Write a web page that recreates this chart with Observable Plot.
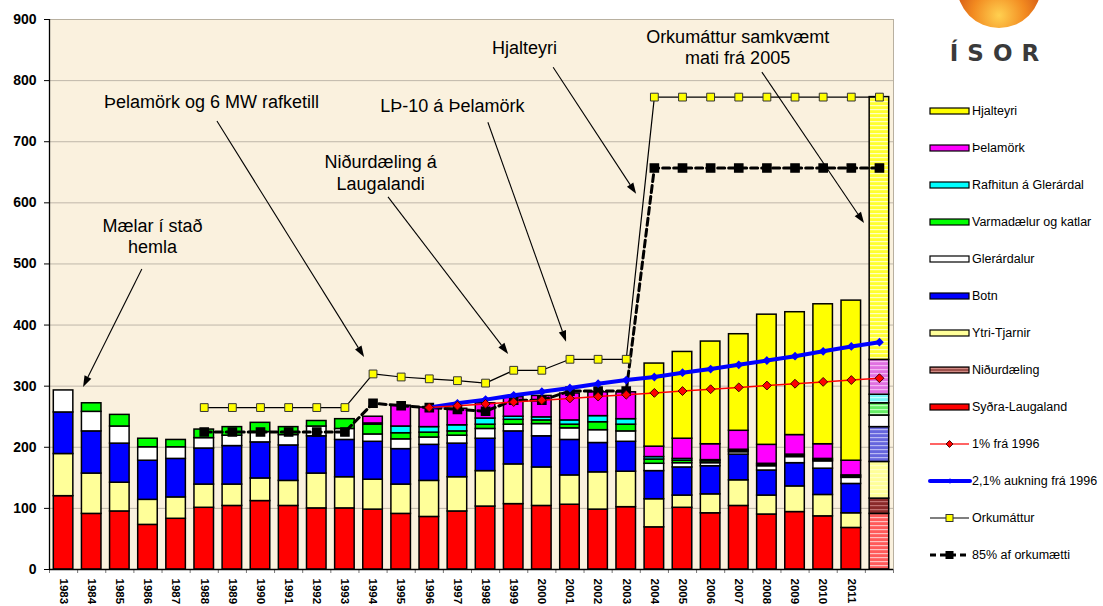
<!DOCTYPE html>
<html><head><meta charset="utf-8">
<script src="https://cdn.jsdelivr.net/npm/d3@7"></script>
<script src="https://cdn.jsdelivr.net/npm/@observablehq/plot@0.6"></script>
<style>
body{margin:0;background:#fff;}
#wrap{position:relative;width:1103px;height:606px;font-family:"Liberation Sans",Arial,sans-serif;}
#chart{position:absolute;left:0;top:0;}
#side{position:absolute;left:900px;top:0;}
</style></head><body><div id="wrap"><div id="chart"></div><svg id="side" width="203" height="606"></svg></div>
<script>
// ---- categories (last one = "Orkumáttur samkvæmt mati frá 2005", unlabelled) ----
const yearLabels = ["1983","1984","1985","1986","1987","1988","1989","1990","1991","1992","1993","1994","1995","1996","1997","1998","1999","2000","2001","2002","2003","2004","2005","2006","2007","2008","2009","2010","2011",""];
// ---- stacked series (bottom to top) ----
const sydraLaugaland = [120,91,95,73,83,101,104,112,104,100,100,98,91,86,95,103,107,104,106,98,102,69,101,92,104,90,94,87,68,91];
const nidurdaeling   = [0,0,0,0,0,0,0,0,0,0,0,0,0,0,0,0,0,0,0,0,0,0,0,0,0,0,0,0,0,25];
const ytriTjarnir    = [69,66,47,41,35,38,35,37,41,57,51,49,48,59,56,58,65,63,48,61,58,46,20,31,42,31,42,35,24,60];
const botn           = [68,69,64,64,63,59,63,59,58,61,61,62,58,59,55,53,54,51,58,48,49,46,46,46,42,41,38,43,48,57];
const glerardalur    = [36,32,28,22,19,17,17,17,17,16,18,12,16,12,13,16,11,20,19,21,17,12,7,5,4,7,10,12,10,19];
const varmadaelur    = [0,14,19,14,12,14,14,15,13,9,16,16,10,8,7,7,8,6,6,13,11,7,4,3,2,2,2,2,2,20];
const rafhitun       = [0,0,0,0,0,0,0,0,0,0,0,2,11,9,10,10,5,5,7,10,9,4,3,2,2,2,2,2,2,14];
const thelamork      = [0,0,0,0,0,0,0,0,0,0,0,11,34,32,27,25,32,35,44,39,44,17,33,26,31,31,32,24,24,57];
const hjalteyri      = [0,0,0,0,0,0,0,0,0,0,0,0,0,0,0,0,0,0,0,0,0,136,142,168,158,213,201,229,262,430];
// ---- line series ----
const orkumattur  = [null,null,null,null,null,265,265,265,265,265,265,320,315,312,309,305,326,326,344,344,344,773,773,773,773,773,773,773,773,773];
const orkumaetti85 = [null,null,null,null,null,225,225,225,225,225,225,272,268,265,262,259,277,277,292,292,292,657,657,657,657,657,657,657,657,657];
const fra1996_1   = [null,null,null,null,null,null,null,null,null,null,null,null,null,265,268,271,274,277,280,283,286,289,292,295,298,301,304,307,310,313];
const fra1996_21  = [null,null,null,null,null,null,null,null,null,null,null,null,null,265,272,278,285,291,297,304,310,315,322,328,335,342,349,357,365,372];
const yTicks = [0,100,200,300,400,500,600,700,800,900];
// ---- annotations ----
const noteTexts = ["Mælar í stað\nhemla","Þelamörk og 6 MW rafketill","Niðurdæling á\nLaugalandi","LÞ-10 á Þelamörk","Hjalteyri","Orkumáttur samkvæmt\nmati frá 2005"];
const noteX = [1986.66,1988.76,1994.77,1997.32,1999.88,2007.46];
const noteY = [546,766,650,759,854,855];
const arrowX1 = [1986.30,1988.97,1995.05,1998.60,2000.92,2008.34];
const arrowY1 = [491,733,609,731,821,813];
const arrowX2 = [1984.21,1994.20,1999.32,2001.38,2003.87,2011.97];
const arrowY2 = [298,347,352,372,614,566];

const seriesKeys = ["sydra","nidur","ytri","botn","glerar","varma","rafhitun","thelamork","hjalteyri"];
const seriesData = {sydra:sydraLaugaland,nidur:nidurdaeling,ytri:ytriTjarnir,botn:botn,glerar:glerardalur,varma:varmadaelur,rafhitun:rafhitun,thelamork:thelamork,hjalteyri:hjalteyri};
const seriesNames = {sydra:"Syðra-Laugaland",nidur:"Niðurdæling",ytri:"Ytri-Tjarnir",botn:"Botn",glerar:"Glerárdalur",varma:"Varmadælur og katlar",rafhitun:"Rafhitun á Glerárdal",thelamork:"Þelamörk",hjalteyri:"Hjalteyri"};
const colorOf = {sydra:"#ff0000",nidur:"#a0524d",ytri:"#ffff99",botn:"#0000ff",glerar:"#ffffff",varma:"#00ff00",rafhitun:"#00ffff",thelamork:"#ff00ff",hjalteyri:"#ffff00"};
const patBase = {sydra:["#ff5a5a","#ffc0c0"],nidur:["#8a2a2a","#c07070"],ytri:["#ffff99","#ffffc8"],botn:["#6666dd","#b8b8f4"],glerar:["#ffffff","#ffffff"],varma:["#66ee66","#c0ffc0"],rafhitun:["#77f6f6","#c8ffff"],thelamork:["#e070e0","#f4b8f4"],hjalteyri:["#ffff30","#ffffc0"]};

const firstPos = 1983;
const rows = [];
seriesKeys.forEach(k => seriesData[k].forEach((v, i) => { if (v > 0) rows.push({pos: firstPos + i, series: k, value: v, mat: i === yearLabels.length - 1}); }));
const lineRows = arr => arr.map((v, i) => ({pos: firstPos + i, value: v})).filter(d => d.value != null);
const boundaries = yearLabels.map((_, i) => firstPos + i).concat([firstPos + yearLabels.length]);
const labelOf = new Map(yearLabels.map((l, i) => [firstPos + i + 0.5, l]));
const centers = [...labelOf.keys()];
const notes = noteTexts.map((t, i) => ({t, x: noteX[i], y: noteY[i], x1: arrowX1[i], y1: arrowY1[i], x2: arrowX2[i], y2: arrowY2[i]}));
const mid = d => d.pos + 0.5;

// annotation arrows with filled heads, positioned through Plot's own scales
function arrowsMark(index, scales) {
  const g = d3.create("svg:g");
  notes.forEach(n => {
    const x1 = scales.x(n.x1), y1 = scales.y(n.y1), x2 = scales.x(n.x2), y2 = scales.y(n.y2);
    const a = Math.atan2(y2 - y1, x2 - x1), L = 11, W = 3.8;
    const bx = x2 - L * Math.cos(a), by = y2 - L * Math.sin(a);
    g.append("line").attr("x1", x1).attr("y1", y1).attr("x2", bx).attr("y2", by).attr("stroke", "#000").attr("stroke-width", 1.1);
    g.append("path").attr("d", `M${x2},${y2}L${bx - W * Math.sin(a)},${by + W * Math.cos(a)}L${bx + W * Math.sin(a)},${by - W * Math.cos(a)}Z`).attr("fill", "#000");
  });
  return g.node();
}

const chart = Plot.plot({
  width: 900, height: 606,
  marginLeft: 49, marginRight: 7, marginTop: 19, marginBottom: 37,
  x: {domain: [firstPos, firstPos + yearLabels.length], axis: null},
  y: {domain: [0, 900], axis: null},
  color: {type: "identity"},
  style: {fontFamily: "'Liberation Sans', Arial, sans-serif", background: "transparent", color: "#000"},
  marks: [
    Plot.frame({fill: "#faf1de", stroke: null}),
    Plot.gridY({ticks: yTicks, stroke: "#8f897f", strokeOpacity: 0.55}),
    Plot.frame({stroke: "#b8b0a0"}),
    Plot.axisY({ticks: yTicks, tickSize: 5, tickPadding: 8, fontSize: 14, fontWeight: "bold", label: null}),
    Plot.axisX({ticks: boundaries, tickSize: 4, tickFormat: () => "", stroke: "#777", label: null}),
    Plot.axisX({ticks: centers, tickSize: 0, tickPadding: 9, tickRotate: 90, tickFormat: d => labelOf.get(d), fontSize: 11.5, fontWeight: "bold", label: null}),
    Plot.rect(rows, Plot.stackY({x1: "pos", x2: d => d.pos + 1, y: "value", z: "series", order: seriesKeys,
      fill: d => d.mat ? `url(#pat-${d.series})` : colorOf[d.series],
      stroke: "#000", strokeWidth: 1.5, insetLeft: 4.3, insetRight: 4.3})),
    Plot.ruleX([firstPos], {stroke: "#000", strokeWidth: 1.3}),
    Plot.ruleY([0], {stroke: "#000", strokeWidth: 1.3}),
    // 85% af orkumætti
    Plot.line(lineRows(orkumaetti85), {x: mid, y: "value", stroke: "#000", strokeWidth: 3, strokeDasharray: "7,4"}),
    Plot.dot(lineRows(orkumaetti85), {x: mid, y: "value", symbol: "square", r: 4.6, fill: "#000", stroke: "#000"}),
    // Orkumáttur
    Plot.line(lineRows(orkumattur), {x: mid, y: "value", stroke: "#000", strokeWidth: 1.2}),
    Plot.dot(lineRows(orkumattur), {x: mid, y: "value", symbol: "square", r: 4.4, fill: "#ffff00", stroke: "#333", strokeWidth: 1}),
    // 2,1% aukning
    Plot.line(lineRows(fra1996_21), {x: mid, y: "value", stroke: "#0000ff", strokeWidth: 4}),
    Plot.dot(lineRows(fra1996_21), {x: mid, y: "value", symbol: "diamond2", r: 3, fill: "#0000ff", stroke: "#0000ff"}),
    // 1%
    Plot.line(lineRows(fra1996_1), {x: mid, y: "value", stroke: "#ff0000", strokeWidth: 1.5}),
    Plot.dot(lineRows(fra1996_1), {x: mid, y: "value", symbol: "diamond2", r: 4, fill: "#ff0000", stroke: "#400", strokeWidth: 1}),
    // annotations
    arrowsMark,
    Plot.text(notes, {x: "x", y: "y", text: "t", fontSize: 18, lineHeight: 1.17, fill: "#000"})
  ]
});

// stripe patterns for the estimated capacity bar
const defs = d3.select(chart).insert("defs", ":first-child");
seriesKeys.forEach(k => {
  const p = defs.append("pattern").attr("id", `pat-${k}`).attr("patternUnits", "userSpaceOnUse").attr("width", 8).attr("height", 4);
  p.append("rect").attr("width", 8).attr("height", 4).attr("fill", patBase[k][0]);
  p.append("rect").attr("y", 1).attr("width", 8).attr("height", 1.2).attr("fill", patBase[k][1]);
});
document.getElementById("chart").appendChild(chart);

// ---- legend + logo ----
const side = d3.select("#side");
const sdefs = side.append("defs");
const g = sdefs.append("radialGradient").attr("id", "ball").attr("cx", "50%").attr("cy", "85%").attr("r", "70%");
g.append("stop").attr("offset", "0%").attr("stop-color", "#ffd050");
g.append("stop").attr("offset", "45%").attr("stop-color", "#f28a20");
g.append("stop").attr("offset", "100%").attr("stop-color", "#c03a10");
side.append("ellipse").attr("cx", 99).attr("cy", -14).attr("rx", 42).attr("ry", 42).attr("fill", "url(#ball)");
side.append("text").attr("x", 99).attr("y", 61).attr("text-anchor", "middle")
  .attr("font-family", "'DejaVu Sans', sans-serif").attr("font-weight", "bold").attr("font-size", 23)
  .attr("letter-spacing", 9).attr("fill", "#3a3a3a").text("ÍSOR");

const legendRows = [...seriesKeys].reverse().map(k => ({type: "bar", key: k, label: seriesNames[k]}))
  .concat([{type: "l1", label: "1% frá 1996"}, {type: "l21", label: "2,1% aukning frá 1996"}, {type: "ork", label: "Orkumáttur"}, {type: "o85", label: "85% af orkumætti"}]);
legendRows.forEach((r, i) => {
  const y = 111 + i * 37;
  const gg = side.append("g").attr("transform", `translate(0,${y})`);
  if (r.type === "bar") {
    gg.append("rect").attr("x", 30).attr("y", -3).attr("width", 39).attr("height", 6)
      .attr("fill", r.key === "nidur" ? "url(#lgnid)" : colorOf[r.key]).attr("stroke", "#000").attr("stroke-width", 1.2);
  } else if (r.type === "l1") {
    gg.append("line").attr("x1", 30).attr("x2", 69).attr("stroke", "#ff3030").attr("stroke-width", 1.3);
    gg.append("path").attr("d", d3.symbol(d3.symbolDiamond2, 30)()).attr("transform", "translate(49.5,0)").attr("fill", "#ff0000").attr("stroke", "#400");
  } else if (r.type === "l21") {
    gg.append("line").attr("x1", 30).attr("x2", 70).attr("stroke", "#0000ff").attr("stroke-width", 4).attr("stroke-linecap", "round");
    gg.append("path").attr("d", d3.symbol(d3.symbolDiamond2, 20)()).attr("transform", "translate(50,0)").attr("fill", "#0000ff");
  } else if (r.type === "ork") {
    gg.append("line").attr("x1", 30).attr("x2", 69).attr("stroke", "#000").attr("stroke-width", 1.2);
    gg.append("rect").attr("x", 46).attr("y", -3.5).attr("width", 7).attr("height", 7).attr("fill", "#ffff00").attr("stroke", "#333");
  } else {
    gg.append("line").attr("x1", 30).attr("x2", 70).attr("stroke", "#000").attr("stroke-width", 3).attr("stroke-dasharray", "6,4");
    gg.append("rect").attr("x", 45.5).attr("y", -4).attr("width", 8).attr("height", 8).attr("fill", "#000");
  }
  gg.append("text").attr("x", 72).attr("y", 0).attr("dy", "0.35em").attr("font-size", 12.5)
    .attr("font-family", "'Liberation Sans', Arial, sans-serif").attr("fill", "#000").text(r.label);
});
const lg = sdefs.append("pattern").attr("id", "lgnid").attr("patternUnits", "userSpaceOnUse").attr("width", 8).attr("height", 3);
lg.append("rect").attr("width", 8).attr("height", 3).attr("fill", "#a0524d");
lg.append("rect").attr("y", 1).attr("width", 8).attr("height", 1).attr("fill", "#d08a84");
</script></body></html>
